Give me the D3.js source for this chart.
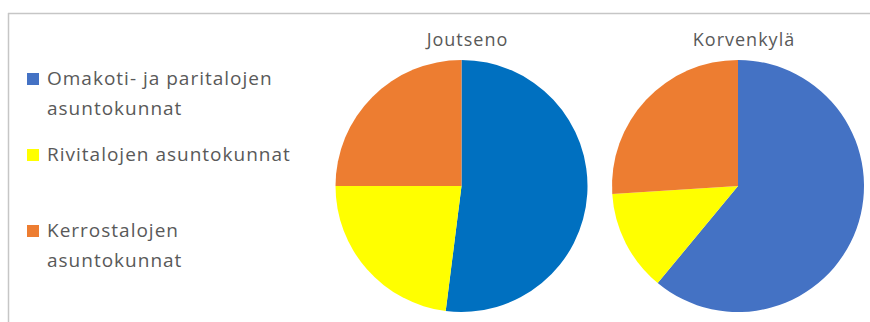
<!DOCTYPE html>
<html>
<head>
<meta charset="utf-8">
<script src="https://cdn.jsdelivr.net/npm/d3@7"></script>
<style>
  body { margin: 0; background: #fff; }
  text { font-family: "Open Sans", "Noto Sans", sans-serif; fill: #595959; letter-spacing: 1px; }
</style>
</head>
<body>
<svg id="vis" width="870" height="322"></svg>
<script>
// Datos
const categorias = ["Omakoti- ja paritalojen asuntokunnat", "Rivitalojen asuntokunnat", "Kerrostalojen asuntokunnat"];
const etiquetas = [["Omakoti- ja paritalojen", "asuntokunnat"], ["Rivitalojen asuntokunnat"], ["Kerrostalojen", "asuntokunnat"]];
const alueet = ["Joutseno", "Korvenkylä"];
const joutseno = [52, 23, 25];
const korvenkyla = [61, 13, 26];

const SVG = d3.select("#vis");

// Marco del gráfico (solo arriba e izquierda visibles)
SVG.append("line").attr("x1", 8).attr("x2", 870).attr("y1", 13.5).attr("y2", 13.5)
  .attr("stroke", "#c6c6c6").attr("stroke-width", 1.5);
SVG.append("line").attr("x1", 8.5).attr("x2", 8.5).attr("y1", 13).attr("y2", 322)
  .attr("stroke", "#c6c6c6").attr("stroke-width", 1.5);

// Colores: el azul cambia un poco entre las dos tartas
const coloresPie = [
  ["#0070c0", "#ffff00", "#ed7d31"],
  ["#4472c4", "#ffff00", "#ed7d31"]
];
const coloresLeyenda = ["#4472c4", "#ffff00", "#ed7d31"];

// Leyenda
const filaY = d3.scalePoint().domain(categorias).range([85, 237]);
const leyenda = SVG.selectAll(".leyenda")
  .data(categorias)
  .join("g")
  .attr("class", "leyenda")
  .attr("transform", d => `translate(27, ${filaY(d)})`);

leyenda.append("rect")
  .attr("x", 0).attr("y", -12)
  .attr("width", 12).attr("height", 12)
  .attr("fill", (d, i) => coloresLeyenda[i]);

leyenda.append("text")
  .attr("font-size", 19)
  .selectAll("tspan")
  .data((d, i) => etiquetas[i])
  .join("tspan")
  .attr("x", 20)
  .attr("dy", (d, j) => j === 0 ? 0 : 30)
  .text(d => d);

// Tartas
const radio = 126;
const centroX = d3.scalePoint().domain(alueet).range([461.5, 738]);
const pie = d3.pie().sort(null);
const arco = d3.arc().innerRadius(0).outerRadius(radio);
const series = [joutseno, korvenkyla];

const tartas = SVG.selectAll(".tarta")
  .data(alueet)
  .join("g")
  .attr("class", "tarta")
  .attr("transform", d => `translate(${centroX(d)}, 186)`);

tartas.selectAll("path")
  .data((d, i) => pie(series[i]).map(s => ({ ...s, k: i })))
  .join("path")
  .attr("d", arco)
  .attr("fill", d => coloresPie[d.k][d.index]);

tartas.append("text")
  .attr("x", 6)
  .attr("y", -140)
  .attr("text-anchor", "middle")
  .attr("font-size", 18)
  .text(d => d);
</script>
</body>
</html>
